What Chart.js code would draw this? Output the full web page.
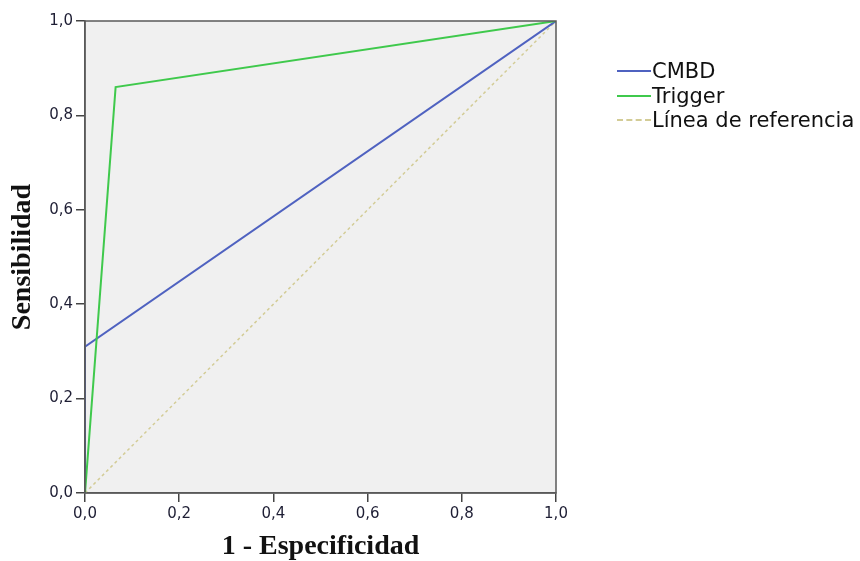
<!DOCTYPE html>
<html>
<head>
<meta charset="utf-8">
<script src="https://cdn.jsdelivr.net/npm/chart.js@4.4.1/dist/chart.umd.min.js"></script>
<style>
  html, body { margin: 0; padding: 0; background: #fff; }
  #wrap { position: relative; width: 860px; height: 561px; }
  #legend { position: absolute; left: 617px; top: 59px; font-family: "DejaVu Sans", sans-serif; font-size: 21px; color: #111; }
  #legend div { height: 24.5px; display: flex; align-items: center; white-space: nowrap; }
  #legend span.ln { display: inline-block; width: 34px; height: 0; margin-right: 1px; }
</style>
</head>
<body>
<div id="wrap">
  <canvas id="roc" width="860" height="561"></canvas>
  <div id="legend"></div>
</div>
<script>
// ROC curve data (1 - specificity, sensitivity)
const cmbdX = [0, 0, 1];
const cmbdY = [0, 0.31, 1];
const triggerX = [0, 0.065, 1];
const triggerY = [0, 0.86, 1];
const refX = [0, 1];
const refY = [0, 1];
const tickValues = [0, 0.2, 0.4, 0.6, 0.8, 1.0];

const seriesNames = ['CMBD', 'Trigger', 'Línea de referencia'];
const seriesColors = ['#4f62c0', '#3fc94c', '#d3cc96'];

function toPoints(xs, ys) {
    return xs.map((x, i) => ({ x: x, y: ys[i] }));
}

const fmt = v => v.toFixed(1).replace('.', ',');

// grey plot background + frame
const plotBackground = {
    id: 'plotBackground',
    beforeDraw(chart) {
        const { ctx, chartArea: a } = chart;
        ctx.save();
        ctx.fillStyle = '#f0f0f0';
        ctx.fillRect(a.left, a.top, a.right - a.left, a.bottom - a.top);
        ctx.restore();
    },
    afterDraw(chart) {
        const { ctx, chartArea: a } = chart;
        ctx.save();
        ctx.strokeStyle = '#5a5a5a';
        ctx.lineWidth = 1.5;
        ctx.strokeRect(a.left, a.top, a.right - a.left, a.bottom - a.top);
        ctx.restore();
    }
};

const axisTick = {
    color: '#1e1e34',
    font: { family: '"DejaVu Sans", sans-serif', size: 15 },
    callback: v => fmt(v)
};

const titleFont = { family: '"Liberation Serif", serif', size: 28, weight: 'bold', lineHeight: 1 };

const ctx = document.getElementById('roc').getContext('2d');
new Chart(ctx, {
    type: 'scatter',
    data: {
        datasets: [
            {
                label: seriesNames[0],
                data: toPoints(cmbdX, cmbdY),
                showLine: true,
                borderColor: seriesColors[0],
                borderWidth: 2,
                pointRadius: 0,
                order: 2
            },
            {
                label: seriesNames[1],
                data: toPoints(triggerX, triggerY),
                showLine: true,
                borderColor: seriesColors[1],
                borderWidth: 2,
                pointRadius: 0,
                order: 1
            },
            {
                label: seriesNames[2],
                data: toPoints(refX, refY),
                showLine: true,
                borderColor: seriesColors[2],
                borderWidth: 1.5,
                borderDash: [3, 3],
                pointRadius: 0,
                order: 3
            }
        ]
    },
    options: {
        responsive: false,
        animation: false,
        layout: { padding: { top: 21, right: 304, left: 0, bottom: 0 } },
        plugins: {
            legend: { display: false },
            tooltip: { enabled: false }
        },
        scales: {
            x: {
                type: 'linear',
                min: 0,
                max: 1,
                afterBuildTicks: s => { s.ticks = tickValues.map(v => ({ value: v })); },
                afterFit: s => { s.height = 68; },
                grid: { drawOnChartArea: false, tickLength: 9, color: '#444', lineWidth: 1.5 },
                border: { color: '#5a5a5a', width: 1.5 },
                ticks: Object.assign({ padding: 3, maxRotation: 0 }, axisTick),
                title: {
                    display: true,
                    text: '1 - Especificidad',
                    color: '#111',
                    font: titleFont,
                    padding: { top: 4, bottom: 0 }
                }
            },
            y: {
                type: 'linear',
                min: 0,
                max: 1,
                afterBuildTicks: s => { s.ticks = tickValues.map(v => ({ value: v })); },
                afterFit: s => { s.width = 85; },
                grid: { drawOnChartArea: false, tickLength: 9, color: '#444', lineWidth: 1.5 },
                border: { color: '#5a5a5a', width: 1.5 },
                ticks: Object.assign({ padding: 3 }, axisTick),
                title: {
                    display: true,
                    text: 'Sensibilidad',
                    color: '#111',
                    font: titleFont,
                    padding: { top: 9, bottom: 0 }
                }
            }
        }
    },
    plugins: [plotBackground]
});

// legend
const legend = document.getElementById('legend');
seriesNames.forEach((name, i) => {
    const row = document.createElement('div');
    const ln = document.createElement('span');
    ln.className = 'ln';
    ln.style.borderTop = (i === 2 ? '2px dashed ' : '2px solid ') + seriesColors[i];
    row.appendChild(ln);
    row.appendChild(document.createTextNode(name));
    legend.appendChild(row);
});
</script>
</body>
</html>
